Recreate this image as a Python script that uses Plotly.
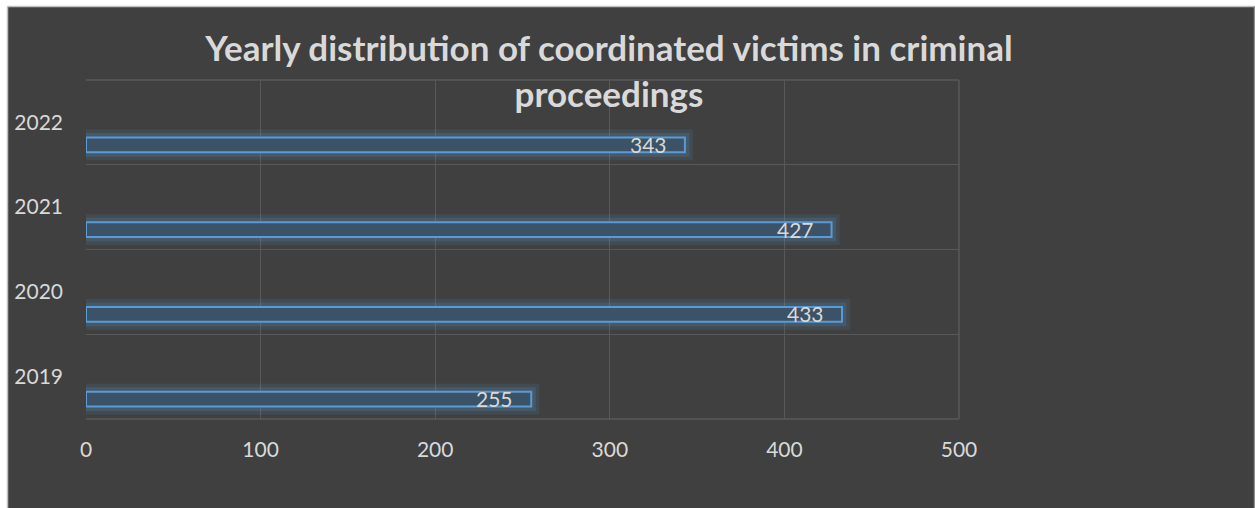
import plotly.graph_objects as go

years = ["2019", "2020", "2021", "2022"]
victims = [255, 433, 427, 343]
x_ticks = [0, 100, 200, 300, 400, 500]
title_text = "Yearly distribution of coordinated victims in criminal<br>proceedings"

BG = "#404040"
GRID = "#595959"
TXT = "#d9d9d9"
BLUE = "#5b9bd5"
FONT = "Lato, Noto Sans, sans-serif"

W, H = 1255, 508
ML, MR, MT, MB = 86, 296, 80, 89
PW, PH = W - ML - MR, H - MT - MB

BAR_W = 0.176
BAR_OFF = -0.353

fig = go.Figure()
# glow layers
for lw, a in [(16, 0.12), (9, 0.18)]:
    fig.add_trace(go.Bar(
        x=victims, y=years, orientation="h", width=BAR_W, offset=BAR_OFF,
        marker=dict(color="rgba(0,0,0,0)", line=dict(color=f"rgba(91,155,213,{a})", width=lw)),
        hoverinfo="skip", showlegend=False))
fig.add_trace(go.Bar(
    x=victims, y=years, orientation="h", width=BAR_W, offset=BAR_OFF,
    marker=dict(color="#3c5267", line=dict(color=BLUE, width=2)),
    showlegend=False))

for i, v in enumerate(victims):
    fig.add_annotation(x=v, y=i, text=str(v), showarrow=False, xanchor="right",
                       xshift=-16, yshift=-22, font=dict(family=FONT, size=21, color=TXT))

def px_x(p):
    return (p - ML) / PW

def px_y(p):
    return (H - MB - p) / PH

# plot-area border lines (top, right, bottom)
for x0, y0, x1, y1 in [(0, 1, 1, 1), (1, 0, 1, 1), (0, 0, 1, 0)]:
    fig.add_shape(type="line", xref="paper", yref="paper", x0=x0, y0=y0, x1=x1, y1=y1,
                  line=dict(color=GRID, width=1.5), layer="below")

# white outer border (top and left) with gray edge lines
fig.add_shape(type="rect", xref="paper", yref="paper", x0=px_x(0), x1=px_x(1255), y0=px_y(6.5), y1=px_y(0),
              fillcolor="white", line=dict(width=0), layer="above")
fig.add_shape(type="rect", xref="paper", yref="paper", x0=px_x(0), x1=px_x(7.5), y0=px_y(508), y1=px_y(0),
              fillcolor="white", line=dict(width=0), layer="above")
fig.add_shape(type="line", xref="paper", yref="paper", x0=px_x(7.5), x1=px_x(1255), y0=px_y(6.5), y1=px_y(6.5),
              line=dict(color="#bfbfbf", width=1.5))
fig.add_shape(type="line", xref="paper", yref="paper", x0=px_x(7.5), x1=px_x(7.5), y0=px_y(508), y1=px_y(6.5),
              line=dict(color="#bfbfbf", width=1.5))
fig.add_shape(type="line", xref="paper", yref="paper", x0=px_x(1254.5), x1=px_x(1254.5), y0=px_y(508), y1=px_y(6.5),
              line=dict(color="#8c8c8c", width=1.5))

fig.update_layout(
    width=W, height=H,
    margin=dict(l=ML, r=MR, t=MT, b=MB),
    paper_bgcolor=BG, plot_bgcolor=BG,
    barmode="overlay",
    title=dict(text=title_text, x=609 / W, xanchor="center", xref="container",
               y=1 - 61 / H, yanchor="top", yref="container",
               font=dict(family=FONT, size=35, color=TXT, weight="bold")),
    xaxis=dict(range=[0, 500], tickvals=x_ticks, showgrid=True, gridcolor=GRID, gridwidth=1,
               zeroline=False, showline=False, ticks="outside", ticklen=12, tickcolor="rgba(0,0,0,0)",
               tickfont=dict(family=FONT, size=21, color=TXT)),
    yaxis=dict(type="category", categoryorder="array", categoryarray=years, tickson="boundaries",
               range=[-0.5, len(years) - 0.5],
               showgrid=True, gridcolor=GRID, gridwidth=1, zeroline=False, showline=False,
               ticks="", ticklabelstandoff=22,
               tickfont=dict(family=FONT, size=21, color=TXT)),
    font=dict(family=FONT, color=TXT),
)

fig.write_html("out.html")
